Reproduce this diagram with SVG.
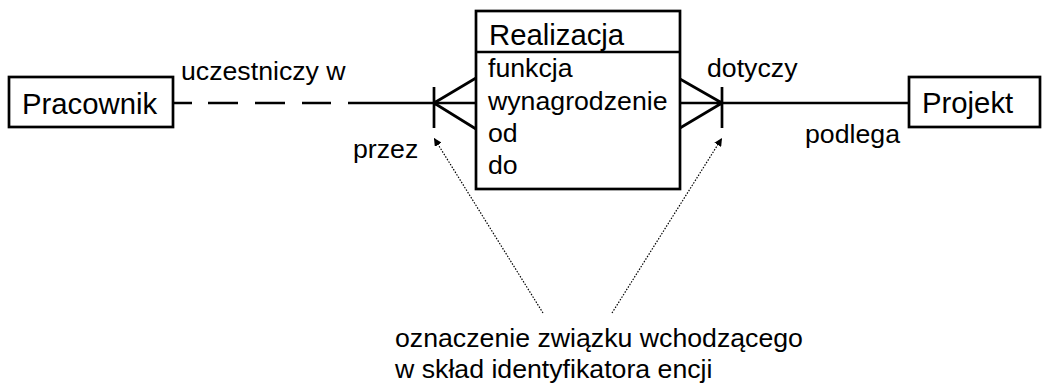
<svg xmlns="http://www.w3.org/2000/svg" width="1042" height="389" viewBox="0 0 1042 389">
  <defs>
    <style>
      .box { fill: #fff; stroke: #000; stroke-width: 2.7; }
      .ln { fill: none; stroke: #000; stroke-width: 2.7; }
      .dot { fill: none; stroke: #000; stroke-width: 1.2; stroke-dasharray: 1.5 1.5; }
      .ent { font-family: "Liberation Sans", Arial, sans-serif; font-size: 29.3px; fill: #000; }
      .lbl { font-family: "Liberation Sans", Arial, sans-serif; font-size: 26.7px; fill: #000; }
    </style>
    <marker id="ah" viewBox="0 0 10 10" refX="10" refY="5" markerWidth="8" markerHeight="8" markerUnits="userSpaceOnUse" orient="auto">
      <path d="M0,0 L10,5 L0,10 z" fill="#000"/>
    </marker>
  </defs>
  <rect width="1042" height="389" fill="#fff"/>

  <g id="connectors">
    <path class="ln" d="M173,103 H192 M208,103 H238 M255,103 H285 M302,103 H331 M348,103 H476"/>
    <path class="ln" d="M434,87 V128 M434,103 L476,78 M434,103 L476,129"/>
    <path class="ln" d="M680,103 H909 M722,87 V128 M680,79 L722,103 M680,128 L722,103"/>
    <path class="dot" d="M543,313 L434,138" marker-end="url(#ah)"/>
    <path class="dot" d="M612,313 L722,138" marker-end="url(#ah)"/>
  </g>

  <g id="pracownik">
    <rect class="box" x="9" y="77" width="164" height="50"/>
    <text class="ent" x="22" y="114">Pracownik</text>
  </g>

  <g id="realizacja">
    <rect class="box" x="476" y="11" width="204" height="178"/>
    <line class="ln" x1="476" y1="52" x2="680" y2="52"/>
    <text class="ent" x="489" y="45">Realizacja</text>
    <text class="lbl" x="488" y="77">funkcja</text>
    <text class="lbl" x="488" y="110">wynagrodzenie</text>
    <text class="lbl" x="488" y="142">od</text>
    <text class="lbl" x="488" y="174">do</text>
  </g>

  <g id="projekt">
    <rect class="box" x="909" y="77" width="131" height="50"/>
    <text class="ent" x="922" y="113">Projekt</text>
  </g>

  <g id="labels">
    <text class="lbl" x="181" y="80">uczestniczy w</text>
    <text class="lbl" x="353" y="158">przez</text>
    <text class="lbl" x="707" y="77">dotyczy</text>
    <text class="lbl" x="805" y="143">podlega</text>
    <text class="lbl" x="395" y="347">oznaczenie związku wchodzącego</text>
    <text class="lbl" x="395" y="378">w skład identyfikatora encji</text>
  </g>
</svg>
